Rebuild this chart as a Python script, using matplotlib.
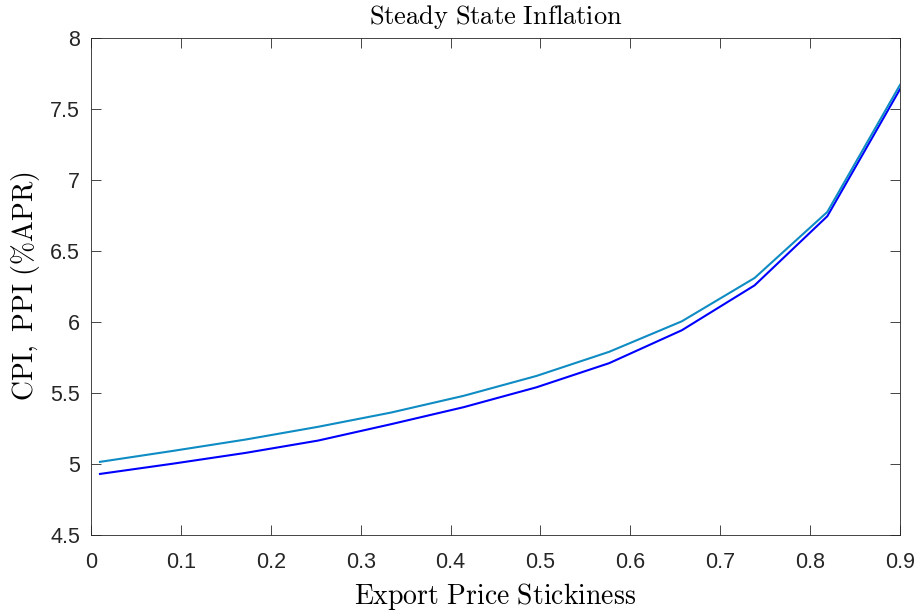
import matplotlib
matplotlib.use('Agg')
from matplotlib import pyplot as plt

# export price stickiness grid and steady state inflation (% APR)
rigidez = [0.01, 0.0909, 0.1718, 0.2527, 0.3336, 0.4145, 0.4955, 0.5764, 0.6573, 0.7382, 0.8191, 0.9]
cpi = [5.015, 5.092, 5.172, 5.262, 5.362, 5.480, 5.620, 5.790, 6.005, 6.310, 6.775, 7.670]
ppi = [4.930, 5.002, 5.078, 5.165, 5.280, 5.400, 5.540, 5.710, 5.942, 6.258, 6.745, 7.640]

xticks = [0, 0.1, 0.2, 0.3, 0.4, 0.5, 0.6, 0.7, 0.8, 0.9]
yticks = [4.5, 5, 5.5, 6, 6.5, 7, 7.5, 8]

plt.rcParams['mathtext.fontset'] = 'cm'
plt.rcParams['font.family'] = ['Liberation Sans', 'DejaVu Sans']

fig = plt.figure(figsize=(9.2, 6.11), dpi=100)
ax = fig.add_axes([0.0989, 0.1244, 0.8794, 0.8134])

ax.plot(rigidez, ppi, color='#0000ff', lw=1.5)
ax.plot(rigidez, cpi, color='#0e8cc3', lw=1.5)

ax.set_xlim(0, 0.9)
ax.set_ylim(4.5, 8)
ax.set_xticks(xticks)
ax.set_xticklabels([f'{t:g}' for t in xticks])
ax.set_yticks(yticks)
ax.set_yticklabels([f'{t:g}' for t in yticks])
ax.tick_params(direction='in', length=7, width=0.6, color='#262626',
               labelsize=15.5, labelcolor='#262626', top=True, right=True)
ax.tick_params(axis='x', pad=12)
ax.tick_params(axis='y', pad=8)
for lado in ax.spines.values():
    lado.set_color('#262626')
    lado.set_linewidth(0.6)

ax.set_title(r'$\mathrm{Steady\ State\ Inflation}$', fontsize=19, pad=10)
ax.set_xlabel(r'$\mathrm{Export\ Price\ Stickiness}$', fontsize=20, labelpad=6)
ax.set_ylabel(r'$\mathrm{CPI,\ PPI\ (\%APR)}$', fontsize=20, labelpad=6)

fig.savefig('out.png', dpi=100)
